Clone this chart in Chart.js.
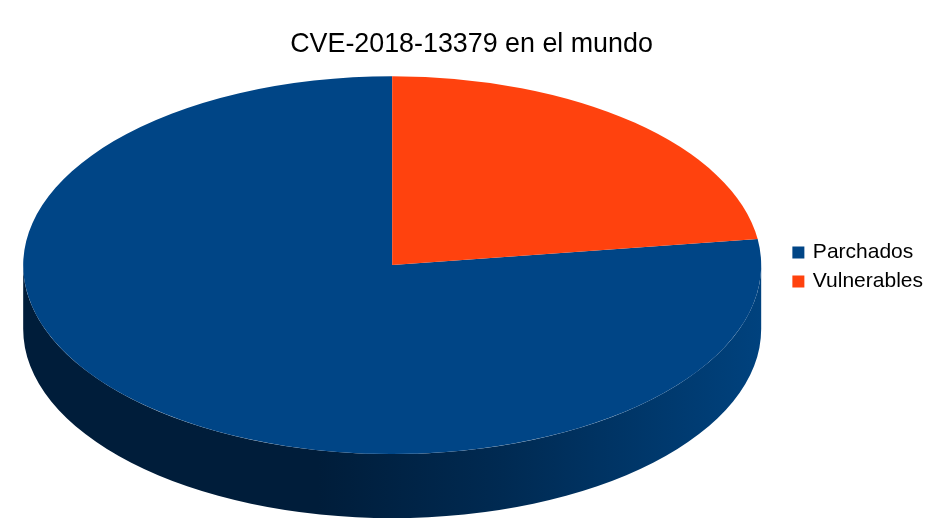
<!DOCTYPE html>
<html>
<head>
<meta charset="utf-8">
<title>CVE-2018-13379 en el mundo</title>
<script src="https://cdn.jsdelivr.net/npm/chart.js@4"></script>
<style>
  html, body { margin: 0; background: #fff; }
  canvas { display: block; }
</style>
</head>
<body>
<canvas id="chart" width="942" height="531"></canvas>
<script>
const categories = ['Parchados', 'Vulnerables'];
const values = [77.2, 22.8];
const sliceColors = ['#004586', '#ff420e'];

// flatten factor and wall height of the fake 3D disc
const squash = 0.512;
const wallDepth = 64;
// nudges for what Chart.js centres differently from the reference
const legendShiftX = 2;
const legendShiftY = 37;
const titleShiftX = 6;

const total = values.reduce((a, b) => a + b, 0);
const startAngle = values[1] / total * 360;

const disc3d = {
  id: 'disc3d',
  afterLayout(chart) {
    chart.legend.left += legendShiftX;
    chart.legend.right += legendShiftX;
    chart.legend.top += legendShiftY;
    chart.legend.bottom += legendShiftY;
    chart.titleBlock.left += titleShiftX;
    chart.titleBlock.right += titleShiftX;
  },
  beforeDatasetsDraw(chart) {
    const arc = chart.getDatasetMeta(0).data[0];
    const { x, y, outerRadius: rx } = arc;
    const ry = rx * squash;
    const ctx = chart.ctx;
    const grad = ctx.createLinearGradient(x - rx, 0, x + rx, 0);
    grad.addColorStop(0, '#001d3a');
    grad.addColorStop(0.4, '#001d3a');
    grad.addColorStop(0.65, '#002a52');
    grad.addColorStop(1, '#00427e');
    ctx.save();
    ctx.beginPath();
    ctx.moveTo(x + rx, y);
    ctx.lineTo(x + rx, y + wallDepth);
    ctx.ellipse(x, y + wallDepth, rx, ry, 0, 0, Math.PI);
    ctx.lineTo(x - rx, y);
    ctx.ellipse(x, y, rx, ry, 0, Math.PI, 0, true);
    ctx.closePath();
    ctx.fillStyle = grad;
    ctx.fill();
    ctx.restore();
  },
  beforeDatasetDraw(chart) {
    const arc = chart.getDatasetMeta(0).data[0];
    const ctx = chart.ctx;
    ctx.save();
    ctx.translate(arc.x, arc.y);
    ctx.scale(1, squash);
    ctx.translate(-arc.x, -arc.y);
  },
  afterDatasetDraw(chart) {
    chart.ctx.restore();
  }
};

new Chart(document.getElementById('chart'), {
  type: 'pie',
  data: {
    labels: categories,
    datasets: [{
      data: values,
      backgroundColor: sliceColors,
      borderWidth: 0,
      radius: 369
    }]
  },
  options: {
    responsive: false,
    animation: false,
    rotation: startAngle,
    events: [],
    layout: { padding: { bottom: 71, right: 11 } },
    plugins: {
      tooltip: { enabled: false },
      title: {
        display: true,
        text: 'CVE-2018-13379 en el mundo',
        color: '#000',
        font: { family: '"Liberation Sans"', size: 26.85, weight: 'normal' },
        padding: { top: 28, bottom: 10 }
      },
      legend: {
        position: 'right',
        labels: {
          color: '#000',
          usePointStyle: true,
          pointStyle: 'rect',
          boxWidth: 8,
          boxHeight: 12,
          padding: 8,
          font: { family: '"Liberation Sans"', size: 21 }
        }
      }
    }
  },
  plugins: [disc3d]
});
</script>
</body>
</html>
